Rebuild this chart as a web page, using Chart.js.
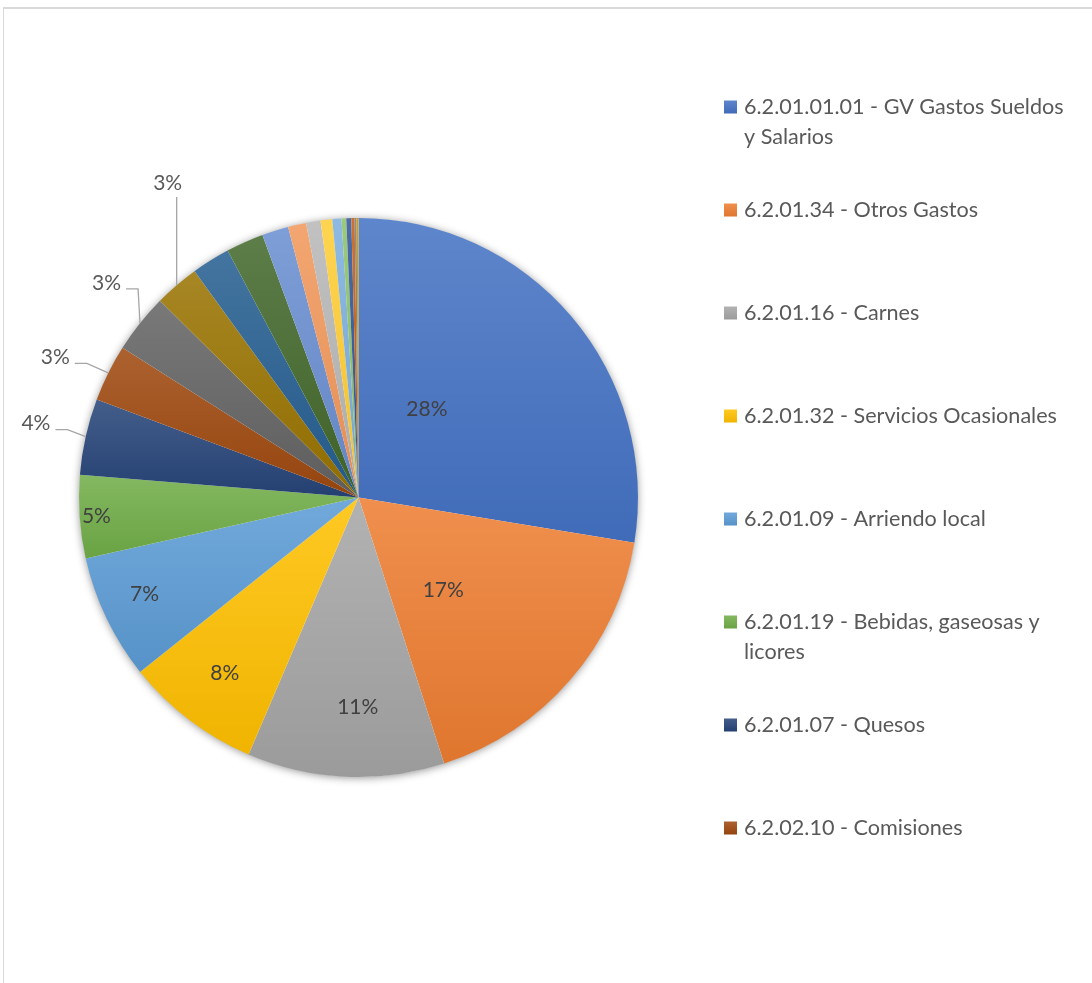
<!DOCTYPE html>
<html><head><meta charset="utf-8">
<script src="https://cdn.jsdelivr.net/npm/chart.js@4.4.0/dist/chart.umd.min.js"></script>
<style>
html,body{margin:0;padding:0;background:#fff;overflow:hidden;width:1092px;height:983px;}
#frame{position:absolute;left:3px;top:7px;width:1200px;height:1200px;border-left:1px solid #d9d9d9;border-top:2px solid #d9d9d9;}
#c{position:absolute;left:0;top:0;}
</style></head><body>
<div id="frame"></div>
<canvas id="c" width="1092" height="983"></canvas>
<script>
// ---- data ----
const categories = [
  '6.2.01.01.01 - GV Gastos Sueldos y Salarios',
  '6.2.01.34 - Otros Gastos',
  '6.2.01.16 - Carnes',
  '6.2.01.32 - Servicios Ocasionales',
  '6.2.01.09 - Arriendo local',
  '6.2.01.19 - Bebidas, gaseosas y licores',
  '6.2.01.07 - Quesos',
  '6.2.02.10 - Comisiones',
  'Otros 9','Otros 10','Otros 11','Otros 12','Otros 13','Otros 14',
  'Otros 15','Otros 16','Otros 17','Otros 18','Otros 19','Otros 20','Otros 21','Otros 22'
];
const values = [27.56, 17.45, 11.38, 7.83, 7.22, 4.79, 4.41, 3.29, 3.43, 2.59, 2.22, 2.17,
                1.53, 1.05, 0.83, 0.67, 0.53, 0.27, 0.29, 0.19, 0.11, 0.11];
const colors = ['#4472C4','#ED7D31','#A5A5A5','#FFC000','#5B9BD5','#70AD47','#264478','#9E480E',
                '#636363','#997300','#255E91','#43682B','#698ED0','#F1975A','#B7B7B7','#FFCD33',
                '#7CAFDD','#8CC168','#2F5597','#C55A11','#7B7B7B','#BF9000'];
const legendCount = 8;

// ---- helpers ----
function hexToRgb(h){const n=parseInt(h.slice(1),16);return [(n>>16)&255,(n>>8)&255,n&255];}
function mix(h,t,f){const c=hexToRgb(h);return 'rgb('+c.map(v=>Math.round(v+(t-v)*f)).join(',')+')';}
const total = values.reduce((a,b)=>a+b,0);
function sliceAngles(i){
  let s=0; for(let k=0;k<i;k++) s+=values[k];
  return [s/total*Math.PI*2, (s+values[i])/total*Math.PI*2];
}
function sliceGrad(chart,i){
  const ca=chart.chartArea; const base=colors[i];
  if(!ca) return base;
  const cx=(ca.left+ca.right)/2, cy=(ca.top+ca.bottom)/2, r=Math.min(ca.width,ca.height)/2;
  const [a0,a1]=sliceAngles(i);
  const ys=[cy, cy-r*Math.cos(a0), cy-r*Math.cos(a1)];
  if(a0<=0.0001) ys.push(cy-r);
  if(a0<=Math.PI && a1>=Math.PI) ys.push(cy+r);
  let y0=Math.min(...ys), y1=Math.max(...ys); if(y1-y0<2) y1=y0+2;
  const g=chart.ctx.createLinearGradient(0,y0,0,y1);
  g.addColorStop(0,mix(base,255,0.14));
  g.addColorStop(1,mix(base,0,0.06));
  return g;
}
const FONT='Lato, "Open Sans", sans-serif';

const shadowPlugin={
  id:'pieShadow',
  beforeDatasetsDraw(chart){
    const el=chart.getDatasetMeta(0).data[0]; if(!el) return;
    const ctx=chart.ctx; ctx.save();
    ctx.shadowColor='rgba(0,0,0,0.45)'; ctx.shadowBlur=9; ctx.shadowOffsetY=1;
    ctx.beginPath(); ctx.arc(el.x,el.y,el.outerRadius-0.5,0,Math.PI*2); ctx.fillStyle='#fff'; ctx.fill();
    ctx.restore();
  }
};

// label placement (fraction of slice angle, radius factor)
const labelPlaces = {
  0:{a:0.38,r:0.40},1:{a:0.61,r:0.45},2:{a:0.44,r:0.75},3:{a:0.5,r:0.79},4:{a:0.55,r:0.84},5:{a:0.5,r:0.94},
  6:{a:0.52,r:1.184,out:true},7:{a:0.36,r:1.195,out:true},8:{a:0.65,r:1.184,out:true},9:{a:1.5,r:1.316,out:true,vertical:true}
};
const labelPlugin={
  id:'pctLabels',
  afterDatasetsDraw(chart){
    const meta=chart.getDatasetMeta(0); const ctx=chart.ctx;
    ctx.save();
    ctx.font='21px '+FONT; ctx.textAlign='center'; ctx.textBaseline='middle';
    meta.data.forEach((el,i)=>{
      const p=labelPlaces[i]; if(!p) return;
      const pct=Math.round(values[i]/total*100)+'%';
      const R=el.outerRadius;
      const s=el.startAngle+Math.PI/2, e=el.endAngle+Math.PI/2; // clockwise from top
      const th=s+(e-s)*p.a, mid=(s+e)/2;
      const lx=el.x+R*p.r*Math.sin(th), ly=el.y-R*p.r*Math.cos(th);
      if(p.out){
        const px=el.x+R*Math.sin(mid), py=el.y-R*Math.cos(mid);
        const w=ctx.measureText(pct).width;
        ctx.strokeStyle='#A6A6A6'; ctx.lineWidth=1.3; ctx.beginPath();
        if(p.vertical){ ctx.moveTo(px, ly+14); ctx.lineTo(px,py); }
        else { const qx=lx+w/2+5, qy=ly+6; ctx.moveTo(qx,qy); ctx.lineTo(qx+12,qy); ctx.lineTo(px,py); }
        ctx.stroke();
        ctx.fillStyle='#595959';
      } else ctx.fillStyle='#404040';
      ctx.fillText(pct,lx,ly);
    });
    ctx.restore();
  }
};

const legendPlugin={
  id:'sideLegend',
  afterDraw(chart){
    const ctx=chart.ctx; ctx.save();
    ctx.font='21.6px '+FONT; ctx.textBaseline='middle'; ctx.textAlign='left';
    const bx=724, tx=744, y0=107, step=103, lh=30, maxW=328;
    for(let i=0;i<legendCount;i++){
      const y=y0+i*step;
      const g=ctx.createLinearGradient(0,y-6.5,0,y+6.5);
      g.addColorStop(0,mix(colors[i],255,0.14)); g.addColorStop(1,mix(colors[i],0,0.06));
      ctx.fillStyle=g; ctx.fillRect(bx,y-6.5,13,13);
      const words=categories[i].split(' '); const lines=[]; let cur='';
      words.forEach(wd=>{const t=cur?cur+' '+wd:wd; if(ctx.measureText(t).width>maxW && cur){lines.push(cur);cur=wd;} else cur=t;});
      lines.push(cur);
      ctx.fillStyle='#595959';
      lines.forEach((ln,k)=>ctx.fillText(ln,tx,y+k*lh));
    }
    ctx.restore();
  }
};

new Chart(document.getElementById('c'),{
  type:'pie',
  data:{labels:categories,datasets:[{data:values,
    backgroundColor:(c)=>sliceGrad(c.chart,c.dataIndex),
    borderWidth:0,hoverOffset:0}]},
  options:{
    responsive:false,animation:false,
    layout:{padding:{left:79,top:218,right:454,bottom:206}},
    plugins:{legend:{display:false},tooltip:{enabled:false}}
  },
  plugins:[shadowPlugin,labelPlugin,legendPlugin]
});
</script>
</body></html>
